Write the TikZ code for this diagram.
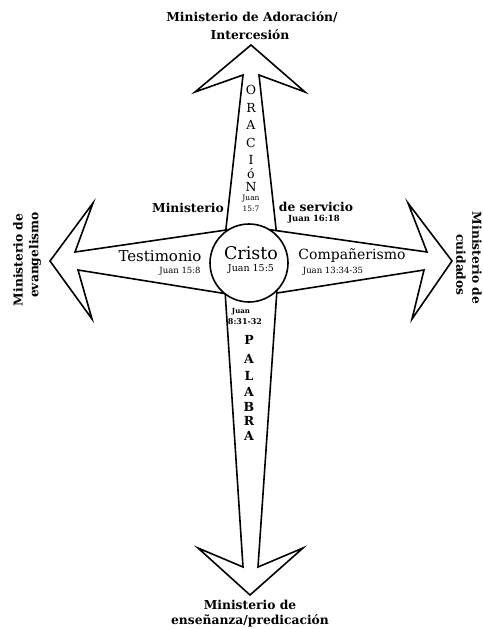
\documentclass[tikz,border=0pt]{standalone}
\usepackage{fontspec}
\setmainfont{DejaVu Serif}
\begin{document}
\begin{tikzpicture}[x=1pt,y=-1pt,
  arm/.style={draw=black, line width=1.6pt, fill=white, line join=miter},
  ttl/.style={font=\bfseries\fontsize{12.3}{13}\selectfont, inner sep=0pt},
  vlet/.style={font=\fontsize{12.5}{13}\selectfont, inner sep=0pt},
  blet/.style={font=\bfseries\fontsize{12.5}{13}\selectfont, inner sep=0pt},
  ref/.style={font=\fontsize{8.5}{9}\selectfont, inner sep=0pt},
  bref/.style={font=\bfseries\fontsize{8}{9}\selectfont, inner sep=0pt},
  mid/.style={font=\fontsize{15}{16}\selectfont, inner sep=0pt}]
\useasboundingbox (0,0) rectangle (482,629);
% arms
\draw[arm] (223.6,250) -- (243,75) -- (195,92) -- (251,45) -- (305,92) -- (259,75) -- (278.4,250) -- cycle;
\draw[arm] (240,228) -- (75,252) -- (93,203) -- (50,261) -- (92,319) -- (78,270) -- (240,296) -- cycle;
\draw[arm] (258,228) -- (427,252) -- (408,203) -- (452,261) -- (412,319) -- (424,270) -- (258,296) -- cycle;
\draw[arm] (224,275) -- (243,567) -- (198,548) -- (250,595) -- (303,548) -- (258,567) -- (278,275) -- cycle;
\node[arm, circle, minimum size=78pt, inner sep=0pt] (c) at (249,263) {};
% centre
\node[font=\fontsize{17.5}{18}\selectfont, inner sep=0pt] (cristo) at (251,253) {Cristo};
\node[ref, font=\fontsize{9.5}{10}\selectfont] (j155) at (251,269) {Juan 15:5};
% top
\node[ttl] (t1) at (252,17) {Ministerio de Adoración/};
\node[ttl] (t2) at (250,35) {Intercesión};
\node[vlet] (o1) at (251,90) {O};
\node[vlet] (o2) at (251,108) {R};
\node[vlet] (o3) at (251,125) {A};
\node[vlet] (o4) at (251,143) {C};
\node[vlet] (o5) at (251,160) {I};
\node[vlet] (o6) at (251,174) {ó};
\node[vlet] (o7) at (251,187) {N};
\node[ref, font=\fontsize{7.5}{8}\selectfont] (j1) at (251,199) {Juan};
\node[ref, font=\fontsize{7.5}{8}\selectfont] (j2) at (251,209) {15:7};
\node[ttl] (mmin) at (188,208) {Ministerio};
\node[ttl] (mserv) at (316,207) {de servicio};
\node[bref, font=\bfseries\fontsize{8.5}{9}\selectfont] (j1618) at (314,219) {Juan 16:18};
% left
\node[mid] (test) at (160,256) {Testimonio};
\node[ref] (j158) at (180,271) {Juan 15:8};
\node[ttl, rotate=90] (l1) at (18,260) {Ministerio de};
\node[ttl, rotate=90] (l2) at (35,255) {evangelismo};
% right
\node[mid, font=\fontsize{14}{15}\selectfont] (comp) at (352,256) {Compañerismo};
\node[ref] (j1334) at (333,271) {Juan 13:34-35};
\node[ttl, rotate=-90] (r1) at (477,258) {Ministerio de};
\node[ttl, rotate=-90] (r2) at (461,265) {cuidados};
% bottom
\node[bref, font=\bfseries\fontsize{7}{8}\selectfont] (b1) at (241,312) {Juan};
\node[bref] (b2) at (245,322) {8:31-32};
\node[blet] (p1) at (249,340) {P};
\node[blet] (p2) at (249,359) {A};
\node[blet] (p3) at (249,376) {L};
\node[blet] (p4) at (249,392) {A};
\node[blet] (p5) at (249,407) {B};
\node[blet] (p6) at (249,421) {R};
\node[blet] (p7) at (249,436) {A};
\node[ttl] (bt1) at (250,605) {Ministerio de};
\node[ttl] (bt2) at (250,621) {enseñanza/predicación};
\end{tikzpicture}
\end{document}
